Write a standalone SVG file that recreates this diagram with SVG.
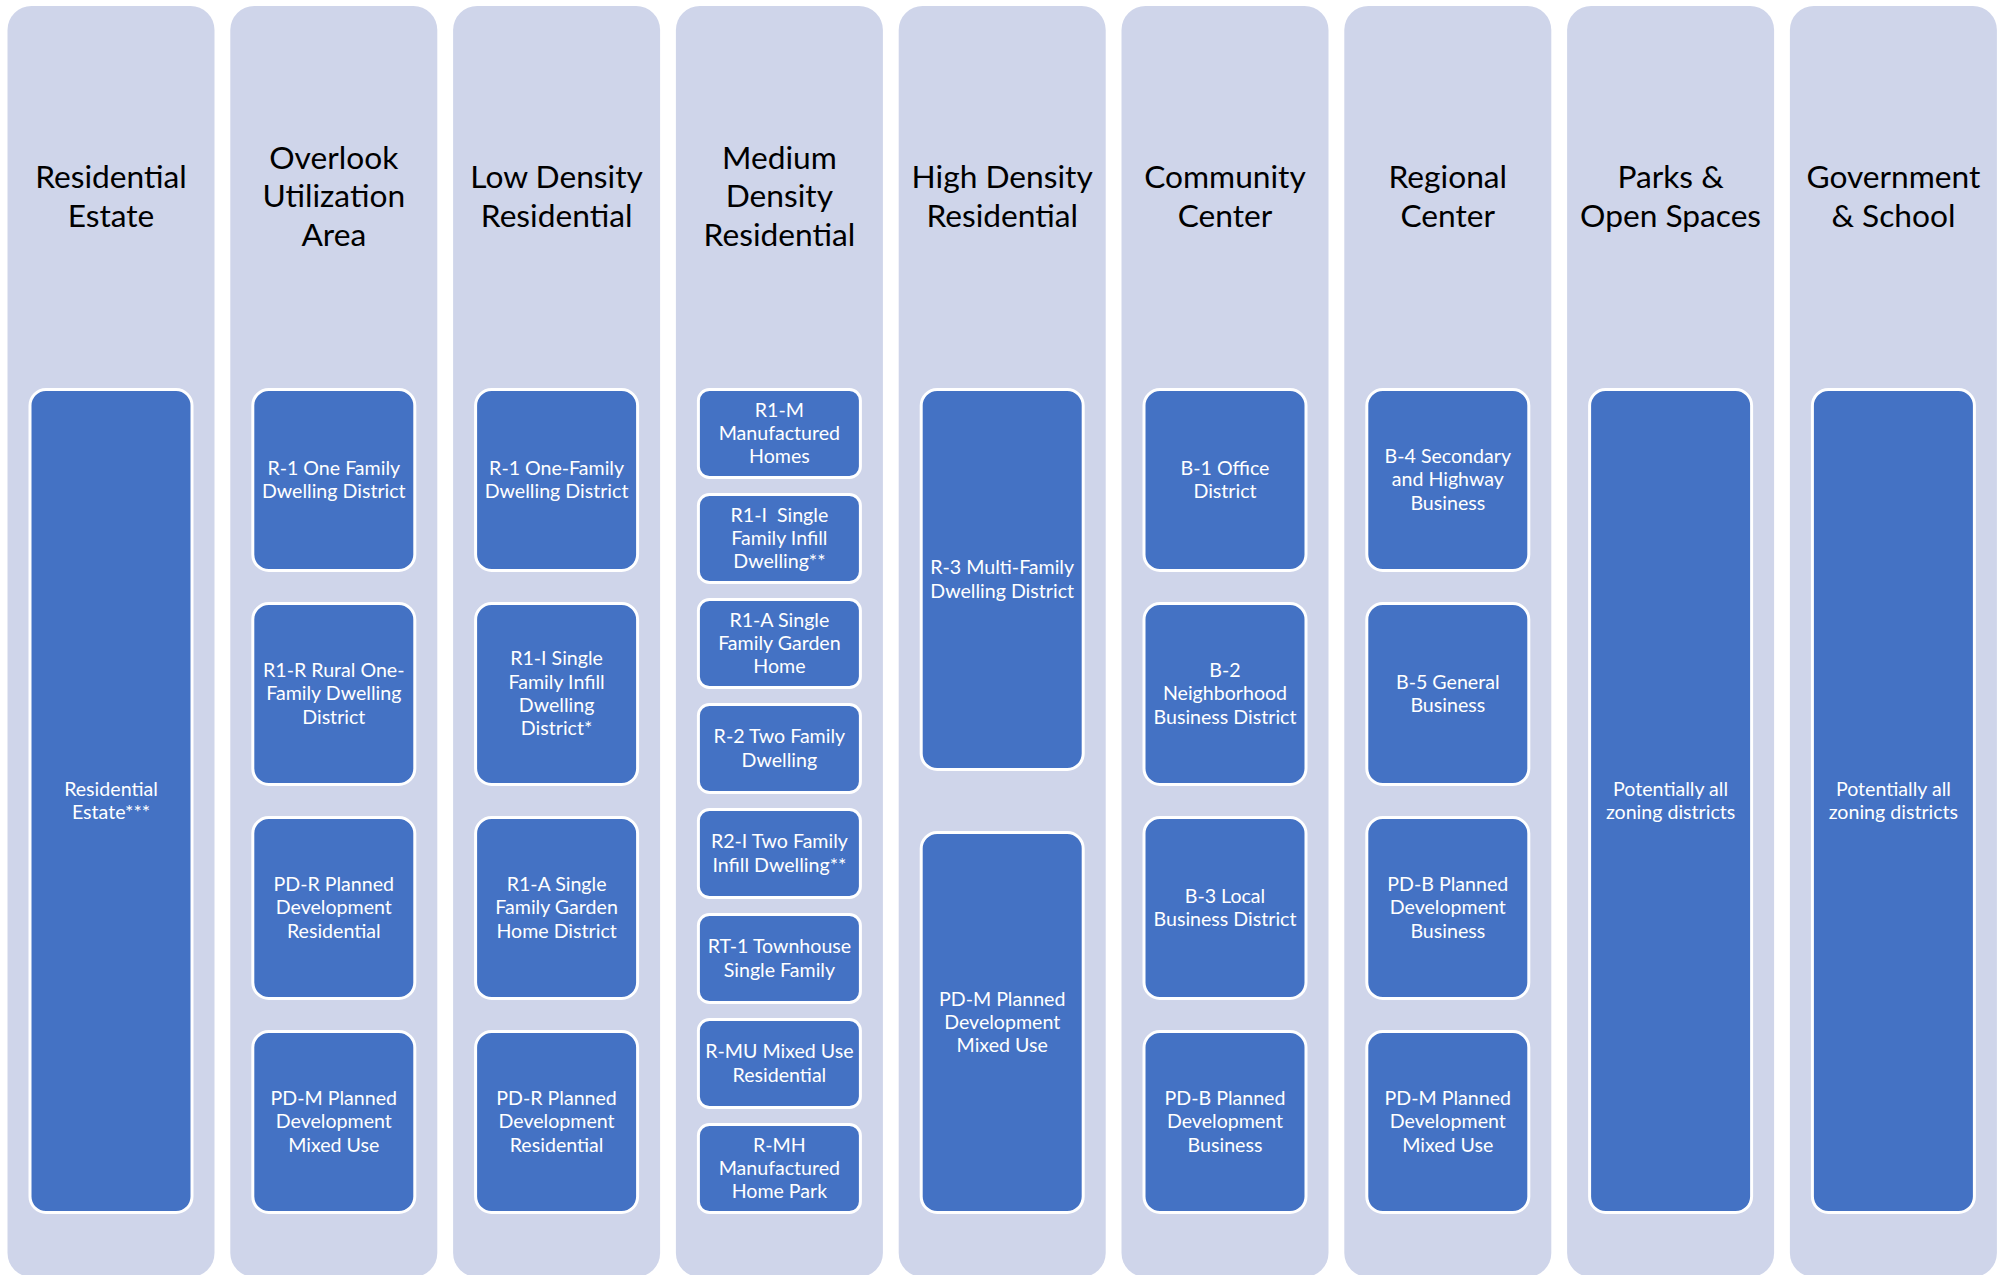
<svg xmlns="http://www.w3.org/2000/svg" width="2003" height="1275" viewBox="0 0 2003 1275">
<style>
.col{fill:#CFD5EA}
.box{fill:#4472C4;stroke:#FFFFFF;stroke-width:3}
.hd{font-family:Lato,"Liberation Sans",sans-serif;font-size:31.7px;fill:#000000;text-anchor:middle}
.bt{font-family:Lato,"Liberation Sans",sans-serif;font-size:19.6px;fill:#FFFFFF;text-anchor:middle}
</style>
<rect width="2003" height="1275" fill="#FFFFFF"/>
<g id="connectors"/>
<g id="col-residential-estate">
<rect class="col" x="7.5" y="6" width="207" height="1271" rx="24"/>
<text class="hd"><tspan x="111" y="188">Residential</tspan><tspan x="111" y="226.5">Estate</tspan></text>
<g id="n-re"><rect class="box" x="30" y="389.5" width="162" height="823" rx="16"/>
<text class="bt"><tspan x="111" y="795.7">Residential</tspan><tspan x="111" y="819">Estate***</tspan></text></g>
</g>
<g id="col-overlook">
<rect class="col" x="230.3" y="6" width="207" height="1271" rx="24"/>
<text class="hd"><tspan x="333.8" y="168.5">Overlook</tspan><tspan x="333.8" y="207">Utilization</tspan><tspan x="333.8" y="245.5">Area</tspan></text>
<g id="n-ov1"><rect class="box" x="252.8" y="389.5" width="162" height="181" rx="16"/>
<text class="bt"><tspan x="333.8" y="474.7">R-1 One Family</tspan><tspan x="333.8" y="498">Dwelling District</tspan></text></g>
<g id="n-ov2"><rect class="box" x="252.8" y="603.5" width="162" height="181" rx="16"/>
<text class="bt"><tspan x="333.8" y="677">R1-R Rural One-</tspan><tspan x="333.8" y="700.3">Family Dwelling</tspan><tspan x="333.8" y="723.6">District</tspan></text></g>
<g id="n-ov3"><rect class="box" x="252.8" y="817.5" width="162" height="181" rx="16"/>
<text class="bt"><tspan x="333.8" y="891">PD-R Planned</tspan><tspan x="333.8" y="914.3">Development</tspan><tspan x="333.8" y="937.6">Residential</tspan></text></g>
<g id="n-ov4"><rect class="box" x="252.8" y="1031.5" width="162" height="181" rx="16"/>
<text class="bt"><tspan x="333.8" y="1105">PD-M Planned</tspan><tspan x="333.8" y="1128.3">Development</tspan><tspan x="333.8" y="1151.6">Mixed Use</tspan></text></g>
</g>
<g id="col-low-density">
<rect class="col" x="453.1" y="6" width="207" height="1271" rx="24"/>
<text class="hd"><tspan x="556.6" y="188">Low Density</tspan><tspan x="556.6" y="226.5">Residential</tspan></text>
<g id="n-ld1"><rect class="box" x="475.6" y="389.5" width="162" height="181" rx="16"/>
<text class="bt"><tspan x="556.6" y="474.7">R-1 One-Family</tspan><tspan x="556.6" y="498">Dwelling District</tspan></text></g>
<g id="n-ld2"><rect class="box" x="475.6" y="603.5" width="162" height="181" rx="16"/>
<text class="bt"><tspan x="556.6" y="665.4">R1-I Single</tspan><tspan x="556.6" y="688.7">Family Infill</tspan><tspan x="556.6" y="712">Dwelling</tspan><tspan x="556.6" y="735.3">District*</tspan></text></g>
<g id="n-ld3"><rect class="box" x="475.6" y="817.5" width="162" height="181" rx="16"/>
<text class="bt"><tspan x="556.6" y="891">R1-A Single</tspan><tspan x="556.6" y="914.3">Family Garden</tspan><tspan x="556.6" y="937.6">Home District</tspan></text></g>
<g id="n-ld4"><rect class="box" x="475.6" y="1031.5" width="162" height="181" rx="16"/>
<text class="bt"><tspan x="556.6" y="1105">PD-R Planned</tspan><tspan x="556.6" y="1128.3">Development</tspan><tspan x="556.6" y="1151.6">Residential</tspan></text></g>
</g>
<g id="col-medium-density">
<rect class="col" x="675.9" y="6" width="207" height="1271" rx="24"/>
<text class="hd"><tspan x="779.4" y="168.5">Medium</tspan><tspan x="779.4" y="207">Density</tspan><tspan x="779.4" y="245.5">Residential</tspan></text>
<g id="n-md1"><rect class="box" x="698.4" y="389.5" width="162" height="88" rx="11"/>
<text class="bt"><tspan x="779.4" y="416.5">R1-M</tspan><tspan x="779.4" y="439.8">Manufactured</tspan><tspan x="779.4" y="463.1">Homes</tspan></text></g>
<g id="n-md2"><rect class="box" x="698.4" y="494.5" width="162" height="88" rx="11"/>
<text class="bt" xml:space="preserve"><tspan x="779.4" y="521.5">R1-I  Single</tspan><tspan x="779.4" y="544.8">Family Infill</tspan><tspan x="779.4" y="568.1">Dwelling**</tspan></text></g>
<g id="n-md3"><rect class="box" x="698.4" y="599.5" width="162" height="88" rx="11"/>
<text class="bt"><tspan x="779.4" y="626.5">R1-A Single</tspan><tspan x="779.4" y="649.8">Family Garden</tspan><tspan x="779.4" y="673.1">Home</tspan></text></g>
<g id="n-md4"><rect class="box" x="698.4" y="704.5" width="162" height="88" rx="11"/>
<text class="bt"><tspan x="779.4" y="743.2">R-2 Two Family</tspan><tspan x="779.4" y="766.5">Dwelling</tspan></text></g>
<g id="n-md5"><rect class="box" x="698.4" y="809.5" width="162" height="88" rx="11"/>
<text class="bt"><tspan x="779.4" y="848.2">R2-I Two Family</tspan><tspan x="779.4" y="871.5">Infill Dwelling**</tspan></text></g>
<g id="n-md6"><rect class="box" x="698.4" y="914.5" width="162" height="88" rx="11"/>
<text class="bt"><tspan x="779.4" y="953.2">RT-1 Townhouse</tspan><tspan x="779.4" y="976.5">Single Family</tspan></text></g>
<g id="n-md7"><rect class="box" x="698.4" y="1019.5" width="162" height="88" rx="11"/>
<text class="bt"><tspan x="779.4" y="1058.2">R-MU Mixed Use</tspan><tspan x="779.4" y="1081.5">Residential</tspan></text></g>
<g id="n-md8"><rect class="box" x="698.4" y="1124.5" width="162" height="88" rx="11"/>
<text class="bt"><tspan x="779.4" y="1151.5">R-MH</tspan><tspan x="779.4" y="1174.8">Manufactured</tspan><tspan x="779.4" y="1198.1">Home Park</tspan></text></g>
</g>
<g id="col-high-density">
<rect class="col" x="898.7" y="6" width="207" height="1271" rx="24"/>
<text class="hd"><tspan x="1002.2" y="188">High Density</tspan><tspan x="1002.2" y="226.5">Residential</tspan></text>
<g id="n-hd1"><rect class="box" x="921.2" y="389.5" width="162" height="380" rx="16"/>
<text class="bt"><tspan x="1002.2" y="574.2">R-3 Multi-Family</tspan><tspan x="1002.2" y="597.5">Dwelling District</tspan></text></g>
<g id="n-hd2"><rect class="box" x="921.2" y="832.5" width="162" height="380" rx="16"/>
<text class="bt"><tspan x="1002.2" y="1005.5">PD-M Planned</tspan><tspan x="1002.2" y="1028.8">Development</tspan><tspan x="1002.2" y="1052.1">Mixed Use</tspan></text></g>
</g>
<g id="col-community">
<rect class="col" x="1121.5" y="6" width="207" height="1271" rx="24"/>
<text class="hd"><tspan x="1225" y="188">Community</tspan><tspan x="1225" y="226.5">Center</tspan></text>
<g id="n-cc1"><rect class="box" x="1144" y="389.5" width="162" height="181" rx="16"/>
<text class="bt"><tspan x="1225" y="474.7">B-1 Office</tspan><tspan x="1225" y="498">District</tspan></text></g>
<g id="n-cc2"><rect class="box" x="1144" y="603.5" width="162" height="181" rx="16"/>
<text class="bt"><tspan x="1225" y="677">B-2</tspan><tspan x="1225" y="700.3">Neighborhood</tspan><tspan x="1225" y="723.6">Business District</tspan></text></g>
<g id="n-cc3"><rect class="box" x="1144" y="817.5" width="162" height="181" rx="16"/>
<text class="bt"><tspan x="1225" y="902.7">B-3 Local</tspan><tspan x="1225" y="926">Business District</tspan></text></g>
<g id="n-cc4"><rect class="box" x="1144" y="1031.5" width="162" height="181" rx="16"/>
<text class="bt"><tspan x="1225" y="1105">PD-B Planned</tspan><tspan x="1225" y="1128.3">Development</tspan><tspan x="1225" y="1151.6">Business</tspan></text></g>
</g>
<g id="col-regional">
<rect class="col" x="1344.3" y="6" width="207" height="1271" rx="24"/>
<text class="hd"><tspan x="1447.8" y="188">Regional</tspan><tspan x="1447.8" y="226.5">Center</tspan></text>
<g id="n-rc1"><rect class="box" x="1366.8" y="389.5" width="162" height="181" rx="16"/>
<text class="bt"><tspan x="1447.8" y="463">B-4 Secondary</tspan><tspan x="1447.8" y="486.3">and Highway</tspan><tspan x="1447.8" y="509.6">Business</tspan></text></g>
<g id="n-rc2"><rect class="box" x="1366.8" y="603.5" width="162" height="181" rx="16"/>
<text class="bt"><tspan x="1447.8" y="688.7">B-5 General</tspan><tspan x="1447.8" y="712">Business</tspan></text></g>
<g id="n-rc3"><rect class="box" x="1366.8" y="817.5" width="162" height="181" rx="16"/>
<text class="bt"><tspan x="1447.8" y="891">PD-B Planned</tspan><tspan x="1447.8" y="914.3">Development</tspan><tspan x="1447.8" y="937.6">Business</tspan></text></g>
<g id="n-rc4"><rect class="box" x="1366.8" y="1031.5" width="162" height="181" rx="16"/>
<text class="bt"><tspan x="1447.8" y="1105">PD-M Planned</tspan><tspan x="1447.8" y="1128.3">Development</tspan><tspan x="1447.8" y="1151.6">Mixed Use</tspan></text></g>
</g>
<g id="col-parks">
<rect class="col" x="1567.1" y="6" width="207" height="1271" rx="24"/>
<text class="hd"><tspan x="1670.6" y="188">Parks &amp;</tspan><tspan x="1670.6" y="226.5">Open Spaces</tspan></text>
<g id="n-pk"><rect class="box" x="1589.6" y="389.5" width="162" height="823" rx="16"/>
<text class="bt"><tspan x="1670.6" y="795.7">Potentially all</tspan><tspan x="1670.6" y="819">zoning districts</tspan></text></g>
</g>
<g id="col-government">
<rect class="col" x="1789.9" y="6" width="207" height="1271" rx="24"/>
<text class="hd"><tspan x="1893.4" y="188">Government</tspan><tspan x="1893.4" y="226.5">&amp; School</tspan></text>
<g id="n-gv"><rect class="box" x="1812.4" y="389.5" width="162" height="823" rx="16"/>
<text class="bt"><tspan x="1893.4" y="795.7">Potentially all</tspan><tspan x="1893.4" y="819">zoning districts</tspan></text></g>
</g>
</svg>
